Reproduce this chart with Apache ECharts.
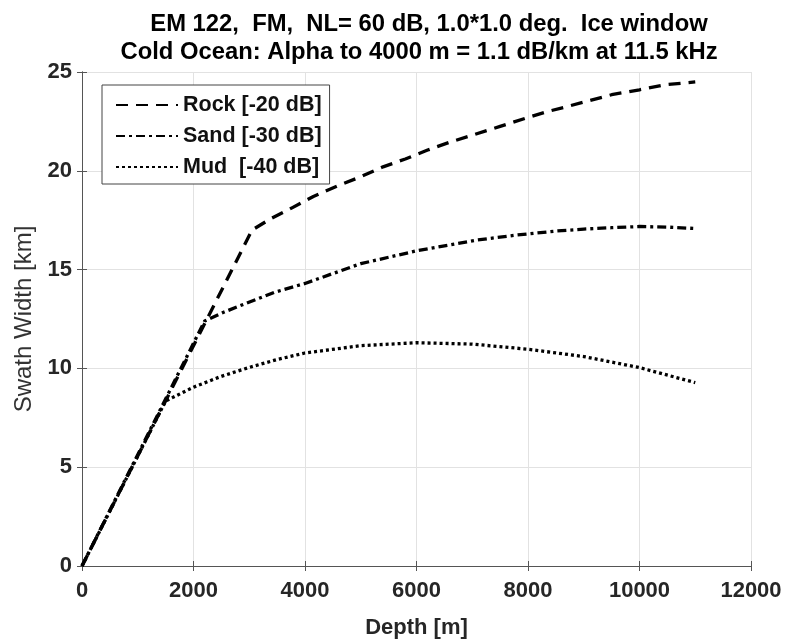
<!DOCTYPE html>
<html>
<head>
<meta charset="utf-8">
<script src="https://cdn.jsdelivr.net/npm/echarts@6/dist/echarts.min.js"></script>
<style>
  html, body { margin: 0; padding: 0; background: #fff; }
  #chart { width: 797px; height: 644px; }
</style>
</head>
<body>
<div id="chart"></div>
<script>
// depth [m] and swath width [km]
const rockDepth = [0, 3050, 3400, 3750, 4150, 4600, 5000, 5400, 5800, 6200, 6600, 7000, 7500, 8000, 8350, 8700, 9100, 9500, 10000, 10450, 11000]
const rockWidth = [0, 17.0, 17.6, 18.1, 18.7, 19.25, 19.7, 20.2, 20.6, 21.05, 21.45, 21.8, 22.25, 22.7, 23.0, 23.25, 23.55, 23.85, 24.1, 24.35, 24.5]
const sandDepth = [0, 2200, 2550, 2950, 3450, 4000, 5000, 6000, 7100, 7800, 8500, 9000, 9500, 10000, 10500, 11000]
const sandWidth = [0, 12.4, 12.85, 13.3, 13.85, 14.3, 15.3, 15.95, 16.5, 16.75, 16.95, 17.05, 17.12, 17.18, 17.15, 17.08]
const mudDepth = [0, 1500, 2000, 2500, 3000, 3500, 4000, 5000, 6000, 7000, 8000, 9000, 10000, 11000]
const mudWidth = [0, 8.35, 9.05, 9.6, 10.05, 10.45, 10.78, 11.15, 11.3, 11.23, 10.97, 10.6, 10.04, 9.28]
const seriesNames = ['Rock [-20 dB]', 'Sand [-30 dB]', 'Mud  [-40 dB]']

const pairs = (xs, ys) => xs.map((x, i) => [x, ys[i]])

const chart = echarts.init(document.getElementById('chart'))

const axisColor = '#555'
const font = 'Liberation Sans'
const labelStyle = { color: '#262626', fontSize: 22, fontWeight: 'bold', fontFamily: font }

const lineSeries = (name, data, dash) => ({
  name: name,
  type: 'line',
  data: data,
  symbol: 'none',
  smooth: false,
  lineStyle: { color: '#000', width: 3.3, type: dash, cap: 'butt' },
  itemStyle: { color: '#000' }
})

chart.setOption({
  animation: false,
  title: [
    {
      text: 'EM 122,  FM,  NL= 60 dB, 1.0*1.0 deg.  Ice window',
      left: 424, top: 7, textAlign: 'center',
      textStyle: { fontSize: 23.8, fontWeight: 'bold', color: '#000', fontFamily: font }
    },
    {
      text: 'Cold Ocean: Alpha to 4000 m = 1.1 dB/km at 11.5 kHz',
      left: 414, top: 35, textAlign: 'center',
      textStyle: { fontSize: 23.8, fontWeight: 'bold', color: '#000', fontFamily: font }
    }
  ],
  legend: {
    orient: 'vertical',
    left: 102,
    top: 85,
    padding: [9, 8, 6, 13],
    itemWidth: 62,
    itemHeight: 14,
    itemGap: 9,
    backgroundColor: '#fff',
    borderColor: '#444',
    borderWidth: 1,
    itemStyle: { opacity: 0 },
    textStyle: { fontSize: 21.5, lineHeight: 22, fontWeight: 'bold', color: '#111', fontFamily: font },
    data: seriesNames
  },
  grid: { left: 82, right: 46, top: 72, bottom: 78 },
  xAxis: [
    {
      type: 'value', min: 0, max: 12000, interval: 2000,
      name: 'Depth [m]', nameLocation: 'middle', nameGap: 51,
      nameTextStyle: { color: '#262626', fontSize: 22, fontWeight: 'bold', fontFamily: font },
      axisLine: { show: true, lineStyle: { color: axisColor } },
      axisTick: { show: true, inside: true, length: 5, lineStyle: { color: axisColor } },
      axisLabel: Object.assign({ margin: 14, formatter: v => String(v) }, labelStyle),
      splitLine: { show: true, lineStyle: { color: '#e2e2e2' } }
    },
    {
      type: 'value', min: 0, max: 12000, interval: 2000, position: 'top',
      axisLine: { show: true, lineStyle: { color: axisColor } },
      axisTick: { show: true, inside: true, length: 5, lineStyle: { color: axisColor } },
      axisLabel: { show: false },
      splitLine: { show: false }
    }
  ],
  yAxis: [
    {
      type: 'value', min: 0, max: 25, interval: 5,
      name: 'Swath Width [km]', nameLocation: 'middle', nameGap: 46,
      nameTextStyle: { color: '#333', fontSize: 24, fontFamily: font },
      axisLine: { show: true, lineStyle: { color: axisColor } },
      axisTick: { show: true, inside: true, length: 5, lineStyle: { color: axisColor } },
      axisLabel: Object.assign({ margin: 10 }, labelStyle),
      splitLine: { show: true, lineStyle: { color: '#e2e2e2' } }
    },
    {
      type: 'value', min: 0, max: 25, interval: 5, position: 'right',
      axisLine: { show: true, lineStyle: { color: axisColor } },
      axisTick: { show: true, inside: true, length: 5, lineStyle: { color: axisColor } },
      axisLabel: { show: false },
      splitLine: { show: false }
    }
  ],
  series: [
    lineSeries(seriesNames[0], pairs(rockDepth, rockWidth), [12, 8]),
    lineSeries(seriesNames[1], pairs(sandDepth, sandWidth), [9, 4, 3, 4]),
    lineSeries(seriesNames[2], pairs(mudDepth, mudWidth), [3, 3])
  ]
})
</script>
</body>
</html>
